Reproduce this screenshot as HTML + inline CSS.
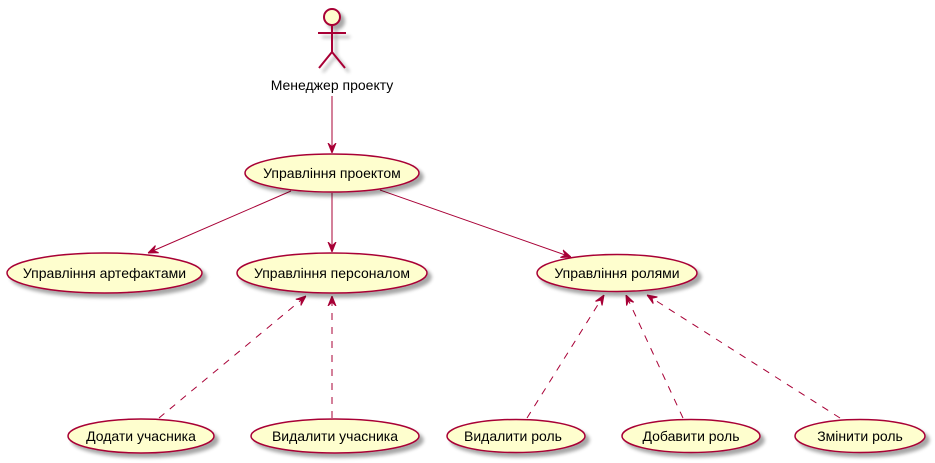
<!DOCTYPE html>
<html><head><meta charset="utf-8"><style>
html,body{margin:0;padding:0;background:#fff;}
svg{display:block;}
text{font-family:"Liberation Sans","DejaVu Sans",sans-serif;font-size:14px;fill:#000;}
</style></head><body>
<svg width="935" height="463" viewBox="0 0 935 463" xmlns="http://www.w3.org/2000/svg">
<defs>
<filter id="sh" x="-20%" y="-20%" width="150%" height="160%">
<feGaussianBlur in="SourceAlpha" stdDeviation="1.8"/>
<feOffset dx="4" dy="4"/>
<feComponentTransfer><feFuncA type="linear" slope="0.35"/></feComponentTransfer>
<feMerge><feMergeNode/><feMergeNode in="SourceGraphic"/></feMerge>
</filter>
<marker id="ar" viewBox="0 0 10 10" refX="10" refY="5" markerWidth="10" markerHeight="10" markerUnits="userSpaceOnUse" orient="auto">
<path d="M0,1 L10,5 L0,9 L4,5 Z" fill="#A80036" stroke="#A80036" stroke-width="1"/>
</marker>
</defs>

<g stroke="#A80036" stroke-width="2" fill="none" filter="url(#sh)">
<circle cx="332" cy="17" r="8" fill="#FEFECE"/>
<line x1="332" y1="25" x2="332" y2="52"/>
<line x1="318" y1="33" x2="346" y2="33"/>
<line x1="332" y1="52" x2="319" y2="68"/>
<line x1="332" y1="52" x2="345" y2="68"/>
</g>
<text x="332" y="90" text-anchor="middle">Менеджер проекту</text>

<g stroke="#A80036" stroke-width="1" fill="none">
<line x1="332" y1="96" x2="332" y2="153" marker-end="url(#ar)"/>
<line x1="332" y1="193" x2="332" y2="252" marker-end="url(#ar)"/>
<line x1="291" y1="191" x2="148" y2="253" marker-end="url(#ar)"/>
<line x1="380" y1="190" x2="571" y2="257" marker-end="url(#ar)"/>
<g stroke-dasharray="7,7">
<line x1="159" y1="418" x2="306" y2="296" marker-end="url(#ar)"/>
<line x1="332" y1="418" x2="332" y2="296" marker-end="url(#ar)"/>
<line x1="527" y1="418" x2="604" y2="295" marker-end="url(#ar)"/>
<line x1="683" y1="418" x2="626" y2="295" marker-end="url(#ar)"/>
<line x1="840" y1="418" x2="647" y2="295" marker-end="url(#ar)"/>
</g>
</g>

<g stroke="#A80036" stroke-width="1.5" fill="#FEFECE" filter="url(#sh)">
<ellipse cx="332" cy="173" rx="87" ry="19"/>
<ellipse cx="104.5" cy="273" rx="97.5" ry="20"/>
<ellipse cx="332" cy="273" rx="95" ry="20"/>
<ellipse cx="617" cy="273" rx="80" ry="18.5"/>
<ellipse cx="141" cy="436" rx="73" ry="17"/>
<ellipse cx="335" cy="436" rx="84" ry="17"/>
<ellipse cx="516" cy="436" rx="69" ry="16.5"/>
<ellipse cx="691" cy="436" rx="69" ry="16.5"/>
<ellipse cx="860" cy="436" rx="65" ry="16.5"/>
</g>
<g text-anchor="middle">
<text x="332" y="178">Управління проектом</text>
<text x="104.5" y="278">Управління артефактами</text>
<text x="332" y="278">Управління персоналом</text>
<text x="617" y="278">Управління ролями</text>
<text x="141" y="441">Додати учасника</text>
<text x="335" y="441">Видалити учасника</text>
<text x="513" y="441">Видалити роль</text>
<text x="691" y="441">Добавити роль</text>
<text x="860" y="441">Змінити роль</text>
</g>
</svg>
</body></html>
